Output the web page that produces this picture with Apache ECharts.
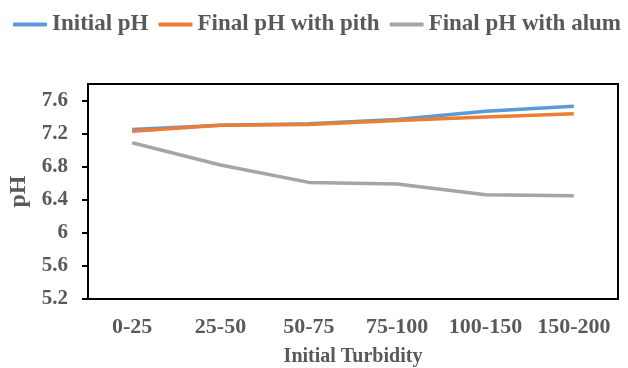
<!DOCTYPE html>
<html>
<head>
<meta charset="utf-8">
<script src="https://cdn.jsdelivr.net/npm/echarts@6/dist/echarts.min.js"></script>
<style>
  html, body { margin: 0; padding: 0; background: #fff; }
  #chart { width: 628px; height: 368px; }
</style>
</head>
<body>
<div id="chart"></div>
<script>
const categories = ['0-25', '25-50', '50-75', '75-100', '100-150', '150-200']
const initialPh = [7.25, 7.30, 7.32, 7.37, 7.47, 7.53]
const finalPith = [7.23, 7.30, 7.31, 7.36, 7.40, 7.44]
const finalAlum = [7.09, 6.82, 6.61, 6.59, 6.46, 6.45]

const fontColor = '#595959'
const font = 'Liberation Serif'

const chart = echarts.init(document.getElementById('chart'))

const lineSeries = (name, data, color) => ({
  name: name,
  type: 'line',
  symbol: 'none',
  data: data,
  lineStyle: { color: color, width: 3.5 },
  itemStyle: { color: color }
})

const options = {
  animation: false,
  textStyle: { fontFamily: font },
  legend: {
    left: 13,
    top: 13,
    width: 615,
    padding: 0,
    icon: 'roundRect',
    itemWidth: 34,
    itemHeight: 4,
    itemGap: 10,
    textStyle: {
      color: fontColor,
      fontFamily: font,
      fontWeight: 'bold',
      fontSize: 23
    },
    data: ['Initial pH', 'Final pH with pith', 'Final pH with alum']
  },
  grid: {
    left: 88,
    right: 10,
    top: 84,
    bottom: 69,
    outerBoundsMode: 'none',
    show: true,
    borderColor: '#000',
    borderWidth: 2
  },
  xAxis: {
    type: 'category',
    data: categories,
    boundaryGap: true,
    name: 'Initial Turbidity',
    nameLocation: 'middle',
    nameGap: 48,
    nameTextStyle: {
      color: fontColor,
      fontFamily: font,
      fontWeight: 'bold',
      fontSize: 20
    },
    axisLine: { show: true, lineStyle: { color: '#000', width: 2 } },
    axisTick: { show: false },
    axisLabel: {
      interval: 0,
      color: fontColor,
      fontFamily: font,
      fontWeight: 'bold',
      fontSize: 22,
      margin: 17
    },
    splitLine: { show: false }
  },
  yAxis: {
    type: 'value',
    min: 5.2,
    max: 7.8,
    interval: 0.4,
    name: 'pH',
    nameLocation: 'middle',
    nameGap: 57,
    nameTextStyle: {
      color: fontColor,
      fontFamily: font,
      fontWeight: 'bold',
      fontSize: 24
    },
    axisLine: { show: true, lineStyle: { color: '#000', width: 2 } },
    axisTick: { show: true, length: 6, lineStyle: { color: '#000', width: 2 } },
    axisLabel: {
      color: fontColor,
      fontFamily: font,
      fontWeight: 'bold',
      fontSize: 21,
      margin: 20,
      showMaxLabel: false,
      formatter: v => String(Math.round(v * 10) / 10)
    },
    splitLine: { show: false }
  },
  series: [
    lineSeries('Initial pH', initialPh, '#5b9bd5'),
    lineSeries('Final pH with pith', finalPith, '#ed7d31'),
    lineSeries('Final pH with alum', finalAlum, '#a5a5a5')
  ]
}

chart.setOption(options)
</script>
</body>
</html>
